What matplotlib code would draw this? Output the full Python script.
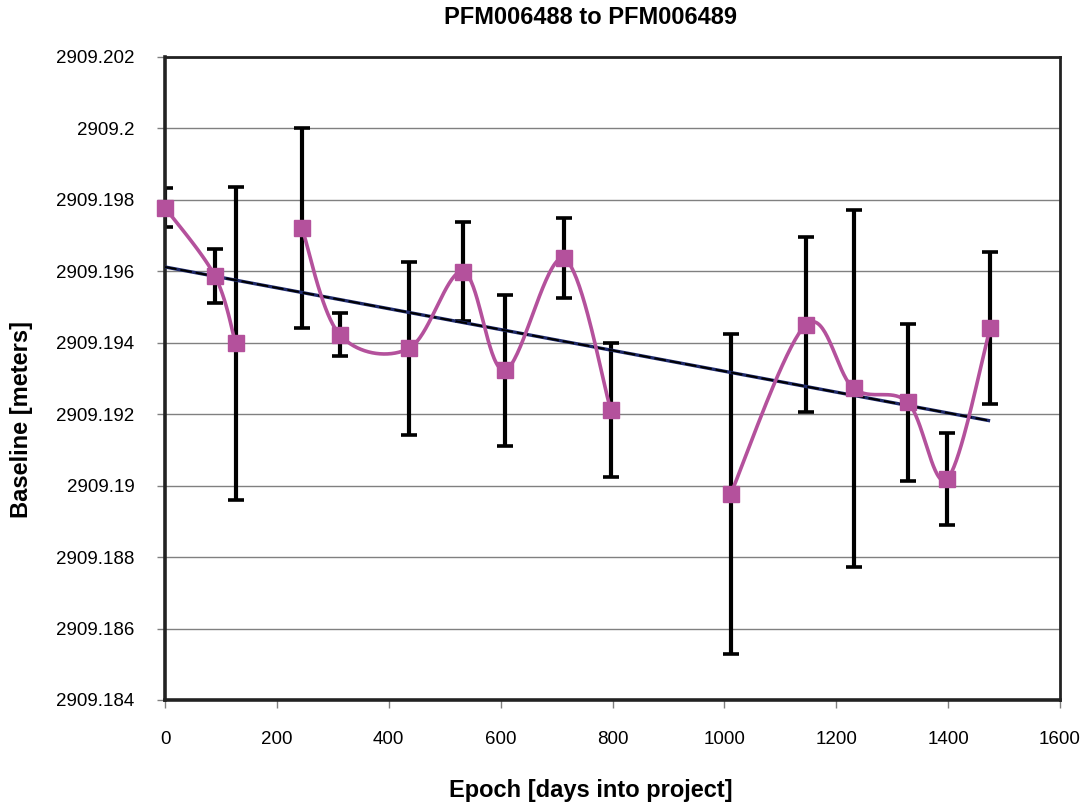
import numpy as np
import matplotlib
matplotlib.use("Agg")
import matplotlib.pyplot as plt
from matplotlib.ticker import FixedLocator, FuncFormatter

# Baseline measurements between PFM006488 and PFM006489
epoch_days = [0, 89, 126, 245, 312, 436, 533, 607, 713, 797,
              1011, 1146, 1231, 1328, 1398, 1475]
baseline_m = [2909.19778, 2909.19587, 2909.19399, 2909.19720, 2909.19423,
              2909.19384, 2909.19599, 2909.19323, 2909.19636, 2909.19211,
              2909.18976, 2909.19451, 2909.19272, 2909.19233, 2909.19018,
              2909.19442]
baseline_err = [0.00055, 0.00075, 0.00438, 0.00280, 0.00061, 0.00243,
                0.00139, 0.00211, 0.00112, 0.00187, 0.00448, 0.00245,
                0.00500, 0.00220, 0.00128, 0.00213]
# the connecting line is broken where epochs are missing from the series
segment_starts = [0, 3, 10]

x_ticks = [0, 200, 400, 600, 800, 1000, 1200, 1400, 1600]
y_ticks = [2909.184, 2909.186, 2909.188, 2909.190, 2909.192, 2909.194,
           2909.196, 2909.198, 2909.200, 2909.202]

magenta = "#B4519C"
FONT = ["Liberation Sans", "DejaVu Sans"]
plt.rcParams["font.family"] = FONT

fig = plt.figure(figsize=(10.83, 8.07), dpi=100)
ax = fig.add_axes([0.1524, 0.1326, 0.8264, 0.7968])

ax.set_xlim(0, 1600)
ax.set_ylim(2909.184, 2909.202)

x = np.asarray(epoch_days, dtype=float)
y = np.asarray(baseline_m, dtype=float)
e = np.asarray(baseline_err, dtype=float)

# grid
ax.yaxis.set_major_locator(FixedLocator(y_ticks))
ax.xaxis.set_major_locator(FixedLocator(x_ticks))
ax.grid(axis="y", color="#808080", linewidth=1.0, zorder=0)
ax.set_axisbelow(True)

# error bars
ax.errorbar(x, y, yerr=e, fmt="none", ecolor="black", elinewidth=3.0,
            capsize=5.5, capthick=2.6, zorder=2)

# linear trend (least squares)
slope, intercept = np.polyfit(x, y - 2909.19, 1)
tx = np.array([x.min(), x.max()])
ty = slope * tx + intercept + 2909.19
ax.plot(tx, ty, color="#1F2A6B", linewidth=2.4, zorder=3, solid_capstyle="butt")
ax.plot(tx, ty, color="black", linewidth=1.4, linestyle=(0, (6, 2)), zorder=3.1)


def smooth_path(pts, steps=40):
    """Cubic Bezier spline through pts (screen coordinates)."""
    n = len(pts)
    tt = np.linspace(0, 1, steps)
    out = []
    for i in range(n - 1):
        p0 = pts[max(i - 1, 0)]
        p1 = pts[i]
        p2 = pts[i + 1]
        p3 = pts[min(i + 2, n - 1)]
        c1 = p1 + (p2 - p0) / 6.0
        c2 = p2 - (p3 - p1) / 6.0
        seg = ((1 - tt) ** 3)[:, None] * p1 \
            + (3 * (1 - tt) ** 2 * tt)[:, None] * c1 \
            + (3 * (1 - tt) * tt ** 2)[:, None] * c2 \
            + (tt ** 3)[:, None] * p2
        out.append(seg if i == 0 else seg[1:])
    return np.vstack(out)


# smoothed connecting curve, one piece per unbroken run
fig.canvas.draw()
bounds = segment_starts + [len(x)]
for a, b in zip(bounds[:-1], bounds[1:]):
    pts = ax.transData.transform(np.column_stack([x[a:b], y[a:b]]))
    curve = ax.transData.inverted().transform(smooth_path(pts))
    ax.plot(curve[:, 0], curve[:, 1], color=magenta, linewidth=2.6,
            zorder=4, solid_capstyle="round")

# markers
ax.plot(x, y, linestyle="none", marker="s", markersize=11.5,
        markerfacecolor=magenta, markeredgecolor=magenta, zorder=5,
        clip_on=False)

# axes styling
for side in ["left", "bottom", "top", "right"]:
    ax.spines[side].set_color("#222222")
    ax.spines[side].set_linewidth(2.0)
ax.spines["left"].set_linewidth(2.6)
ax.spines["bottom"].set_linewidth(2.6)

ax.yaxis.set_major_formatter(FuncFormatter(
    lambda v, p: f"{v:.3f}".rstrip("0").rstrip(".")))
ax.xaxis.set_major_formatter(FuncFormatter(lambda v, p: f"{int(round(v))}"))
ax.tick_params(axis="both", which="major", direction="out", length=6,
               width=1.0, color="#808080", labelsize=13.5, labelcolor="black")
ax.tick_params(axis="y", pad=16)
ax.tick_params(axis="x", pad=16)

fig.text(0.5456, 0.978, "PFM006488 to PFM006489", ha="center", va="center",
         fontsize=17, fontweight="bold")
fig.text(0.5456, 0.021, "Epoch [days into project]", ha="center", va="center",
         fontsize=17, fontweight="bold")
fig.text(0.0203, 0.48, "Baseline [meters]", ha="center", va="center",
         rotation=90, fontsize=17, fontweight="bold")

fig.savefig("out.png", dpi=100, facecolor="white")
